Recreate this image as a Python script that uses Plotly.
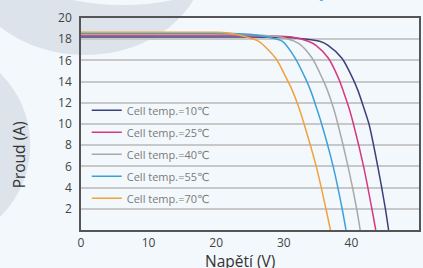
import plotly.graph_objects as go

# ---- data ----
temps = ["Cell temp.=10℃", "Cell temp.=25℃", "Cell temp.=40℃", "Cell temp.=55℃", "Cell temp.=70℃"]
colors = ["#3d3f7d", "#d6397e", "#a9a9a9", "#3ea0d8", "#f0a23c"]

v10 = [0, 10, 20, 28, 32, 35.3, 36.5, 38.6, 40.2, 41.0, 41.8, 42.6, 43.9, 45.0, 45.5]
i10 = [18.2, 18.2, 18.2, 18.18, 18.1, 17.8, 17.45, 16.2, 14.3, 13.1, 11.6, 10.0, 6.0, 2.1, 0]

v25 = [0, 10, 20, 28, 31.2, 33.6, 34.8, 36.6, 38.1, 38.8, 39.6, 40.3, 41.8, 43.0, 43.6]
i25 = [18.35, 18.35, 18.35, 18.32, 18.2, 17.8, 17.4, 16.2, 14.3, 13.1, 11.6, 10.0, 6.0, 2.1, 0]

v40 = [0, 10, 20, 25, 28.3, 30.5, 32.2, 34.2, 35.7, 36.5, 37.3, 38.0, 39.5, 40.75, 41.3]
i40 = [18.45, 18.45, 18.45, 18.43, 18.3, 18.05, 17.6, 16.2, 14.3, 13.1, 11.6, 10.0, 6.0, 2.1, 0]

v55 = [0, 10, 20, 22, 25.3, 27.5, 29.8, 31.7, 33.2, 34.0, 34.8, 35.6, 37.3, 38.6, 39.2]
i55 = [18.55, 18.55, 18.55, 18.54, 18.45, 18.2, 17.8, 16.2, 14.3, 13.1, 11.6, 10.0, 6.0, 2.1, 0]

v70 = [0, 10, 20, 21.5, 23.3, 24.8, 26.3, 28.8, 30.4, 31.3, 32.2, 33.0, 34.8, 36.2, 36.9]
i70 = [18.65, 18.65, 18.65, 18.6, 18.4, 18.15, 17.8, 16.2, 14.3, 13.1, 11.6, 10.0, 6.0, 2.1, 0]

voltages = [v10, v25, v40, v55, v70]
currents = [i10, i25, i40, i55, i70]

x_ticks = [0, 10, 20, 30, 40, 50]
y_ticks = [2, 4, 6, 8, 10, 12, 14, 16, 18, 20]

BG = "#f3f8fc"
WM = "#dce3ea"

fig = go.Figure()
for name, col, v, i in zip(temps, colors, voltages, currents):
    fig.add_trace(go.Scatter(
        x=v, y=i, mode="lines", name=name, legendgroup=name,
        line=dict(color=col, width=1.5, shape="spline", smoothing=0.8),
    ))

fig.update_layout(
    width=423, height=268,
    margin=dict(l=81, r=2, t=18, b=38),
    paper_bgcolor=BG, plot_bgcolor="rgba(0,0,0,0)",
    font=dict(family="Open Sans, DejaVu Sans, sans-serif", color="#444"),
    showlegend=True,
    legend=dict(
        x=0.017, y=0.633, xanchor="left", yanchor="top",
        bgcolor="rgba(0,0,0,0)", borderwidth=0,
        font=dict(size=11, color="#7a7a7a"),
        tracegroupgap=3, itemwidth=30,
    ),
    xaxis=dict(
        range=[0, 50], tickvals=x_ticks, showgrid=False, zeroline=False,
        showline=True, mirror=True, linecolor="#555", linewidth=1.5,
        tickfont=dict(size=12, color="#444"), ticks="", ticklabelstandoff=1,
    ),
    yaxis=dict(
        range=[0, 20], tickvals=y_ticks, showgrid=True, gridcolor="#c8c8c8", gridwidth=1.5,
        zeroline=False, showline=True, mirror=True, linecolor="#555", linewidth=1.5,
        tickfont=dict(size=12, color="#444"), ticks="", ticklabelstandoff=5,
    ),
    shapes=[
        dict(type="circle", xref="paper", yref="paper", layer="below",
             x0=-0.341, x1=0.365, y0=0.825, y1=1.722, fillcolor=WM, line=dict(width=0)),
        dict(type="circle", xref="paper", yref="paper", layer="below",
             x0=-0.618, x1=0.865, y0=1.061, y1=3.44, fillcolor=BG, line=dict(width=0)),
        dict(type="circle", xref="paper", yref="paper", layer="below",
             x0=-0.738, x1=-0.15, y0=-0.071, y1=0.873, fillcolor=WM, line=dict(width=0)),
    ],
    annotations=[
        dict(text="Napětí (V)", xref="paper", yref="paper", x=(241 - 81) / 340, y=(230 - 261) / 212,
             xanchor="center", yanchor="middle", showarrow=False,
             font=dict(size=15.5, color="#333")),
        dict(text="Proud (A)", xref="paper", yref="paper", x=(19 - 81) / 340, y=(230 - 155) / 212,
             xanchor="center", yanchor="middle", textangle=-90, showarrow=False,
             font=dict(size=15.5, color="#333")),
        dict(text="I-V křivky (STC)", xref="paper", yref="paper", x=(373 - 81) / 340, y=(230 - 4) / 212,
             xanchor="right", yanchor="bottom", showarrow=False,
             font=dict(size=16, color="#5aa9e0")),
    ],
)

fig.write_html(
    "out.html",
    config={"displayModeBar": False},
    post_script="document.body.style.margin='0';document.body.style.overflow='hidden';",
)
